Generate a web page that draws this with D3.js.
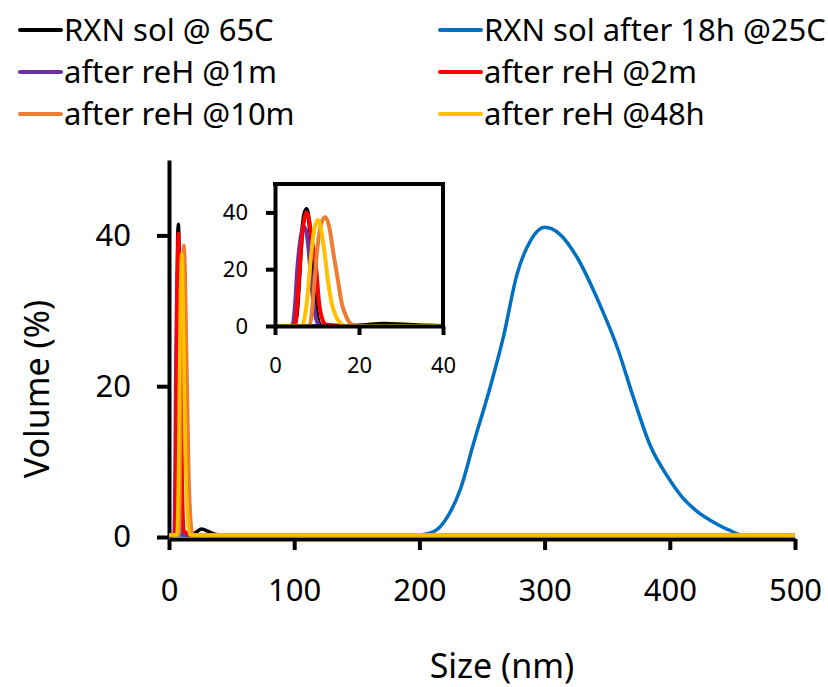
<!DOCTYPE html>
<html>
<head>
<meta charset="utf-8">
<script src="https://cdn.jsdelivr.net/npm/d3@7"></script>
<style>
  html, body { margin: 0; padding: 0; background: #fff; }
  svg { display: block; font-family: "Noto Sans", sans-serif; }
</style>
</head>
<body>
<svg id="chart" width="828" height="687"></svg>
<script>
// ---------- data (size nm, volume %) ----------
const seriesNames = ["RXN sol @ 65C", "RXN sol after 18h @25C", "after reH @1m", "after reH @2m", "after reH @10m", "after reH @48h"];
const seriesColors = ["#000000", "#0070C0", "#7030A0", "#FF0000", "#ED7D31", "#FFC000"];

const rxn65 = [[0,0],[4.5,0],[5.2,4],[5.8,17],[6.3,30],[6.9,39],[7.5,41.2],[8.1,37],[8.7,27],[9.3,14],[9.9,5],[10.5,1],[11.2,0],[17,0],[21,0.3],[26,0.8],[31,0.5],[36,0.15],[42,0],[500,0]];
const rxn25after18h = [[0,0],[200,0],[207,0.2],[214,0.7],[222,2.3],[233,6.2],[243,12],[257,19.9],[267,26.2],[278,34.6],[289,39.1],[300,40.8],[312,39.9],[326,36.8],[344,30.6],[358,24.9],[371,18.2],[384,12],[398,7.8],[410,5.0],[422,3.1],[436,1.6],[448,0.6],[458,0],[500,0]];
const reH1m = [[0,0],[3.8,0],[4.3,1],[4.8,8],[5.3,20],[6,30],[6.8,35],[7.5,33],[8.3,22],[9,10],[9.7,3],[10.4,0.5],[11,0],[500,0]];
const reH2m = [[0,0],[4.6,0],[5.1,4],[5.6,14],[6.3,29],[6.9,37],[7.5,40],[8.1,37.5],[8.7,31],[9.8,20],[10.5,8],[11.5,1.5],[12,0.5],[14,0.3],[16,0],[500,0]];
const reH10m = [[0,0],[7.8,0],[8.3,0.5],[9.1,10],[9.9,24.6],[10.7,34],[11.9,38.4],[12.9,35],[13.9,25.7],[15.1,15],[15.9,8],[17.1,2.8],[18.3,0.5],[19.5,0],[500,0]];
const reH48h = [[0,0],[6.2,0],[6.6,0.5],[7.7,10],[8.3,20],[9.1,31.7],[10.2,37.3],[11.1,33],[11.9,24.6],[12.7,15],[13.5,8],[14.7,2.8],[16,0.5],[17,0],[500,0]];

const allSeries = [rxn65, rxn25after18h, reH1m, reH2m, reH10m, reH48h];

const mainXTicks = [0, 100, 200, 300, 400, 500];
const mainYTicks = [0, 20, 40];
const insetXTicks = [0, 20, 40];
const insetYTicks = [0, 20, 40];

// ---------- setup ----------
const svg = d3.select("#chart");
const black = "#000";

// Main scales
const x = d3.scaleLinear().domain([0, 500]).range([169, 795]);
const y = d3.scaleLinear().domain([0, 50]).range([537, 160]);

// Main axes
const yAxis = d3.axisLeft(y).tickValues(mainYTicks).tickSize(12).tickSizeOuter(0).tickPadding(26);
const xAxis = d3.axisBottom(x).tickValues(mainXTicks).tickSize(11).tickSizeOuter(0).tickPadding(29);

function styleAxis(g, fs, w) {
  g.select(".domain").attr("stroke", black).attr("stroke-width", w);
  g.selectAll(".tick line").attr("stroke", black).attr("stroke-width", w);
  g.selectAll(".tick text").attr("fill", black).style("font-size", fs + "px").style("font-family", '"Noto Sans", sans-serif');
}

const gy = svg.append("g").attr("transform", `translate(${x(0)},0)`).call(yAxis);
styleAxis(gy, 31, 4);
const gx = svg.append("g").attr("transform", `translate(0,${y(0) + 2})`).call(xAxis);
styleAxis(gx, 31, 4);
gx.selectAll(".tick text").attr("dy", "0.71em");

// Main lines
const line = d3.line().x(d => x(d[0])).y(d => y(d[1]) - 2).curve(d3.curveMonotoneX);
allSeries.forEach((s, i) => {
  svg.append("path").datum(s)
    .attr("fill", "none").attr("stroke", seriesColors[i]).attr("stroke-width", 3.5)
    .attr("stroke-linejoin", "round").attr("d", line);
});

// Axis titles
svg.append("text").attr("x", 502).attr("y", 678).attr("text-anchor", "middle")
  .style("font-size", "34px").attr("fill", black).text("Size (nm)");
svg.append("text").attr("transform", "translate(49,389) rotate(-90)").attr("text-anchor", "middle")
  .style("font-size", "34px").attr("fill", black).text("Volume (%)");

// ---------- inset ----------
const ix = d3.scaleLinear().domain([0, 40]).range([275, 443]);
const iy = d3.scaleLinear().domain([0, 50]).range([326, 184]);

svg.append("defs").append("clipPath").attr("id", "insetClip")
  .append("rect").attr("x", ix(0)).attr("y", iy(50)).attr("width", ix(40) - ix(0)).attr("height", iy(0) - iy(50) + 2);

svg.append("rect").attr("x", ix(0)).attr("y", iy(50)).attr("width", ix(40) - ix(0)).attr("height", iy(0) - iy(50)).attr("fill", "#fff");

const iline = d3.line().x(d => ix(d[0])).y(d => iy(d[1])).curve(d3.curveMonotoneX);
const ig = svg.append("g").attr("clip-path", "url(#insetClip)");
allSeries.forEach((s, i) => {
  ig.append("path").datum(s)
    .attr("fill", "none").attr("stroke", seriesColors[i]).attr("stroke-width", 4)
    .attr("stroke-linejoin", "round").attr("d", iline);
});

const iyAxis = d3.axisLeft(iy).tickValues(insetYTicks).tickSize(9).tickSizeOuter(0).tickPadding(18);
const ixAxis = d3.axisBottom(ix).tickValues(insetXTicks).tickSize(9).tickSizeOuter(0).tickPadding(22);
const giy = svg.append("g").attr("transform", `translate(${ix(0)},0)`).call(iyAxis);
styleAxis(giy, 22, 4);
const gix = svg.append("g").attr("transform", `translate(0,${iy(0)})`).call(ixAxis);
styleAxis(gix, 22, 4);
// top & right border of inset
svg.append("path")
  .attr("d", d3.line()([[ix(0), iy(50)], [ix(40), iy(50)], [ix(40), iy(0)]]))
  .attr("fill", "none").attr("stroke", black).attr("stroke-width", 4).attr("stroke-linecap", "square");

// ---------- legend ----------
const legendCols = [20, 440];
const legendRows = [30, 72, 114];
seriesNames.forEach((name, i) => {
  const cx = legendCols[i % 2];
  const cy = legendRows[Math.floor(i / 2)];
  const g = svg.append("g").attr("transform", `translate(${cx},${cy})`);
  g.append("line").attr("x1", 0).attr("x2", 41).attr("y1", 0).attr("y2", 0)
    .attr("stroke", seriesColors[i]).attr("stroke-width", 4).attr("stroke-linecap", "round");
  g.append("text").attr("x", 44).attr("y", 0).attr("dy", "0.35em")
    .style("font-size", "31px").attr("fill", black).text(name);
});
</script>
</body>
</html>
